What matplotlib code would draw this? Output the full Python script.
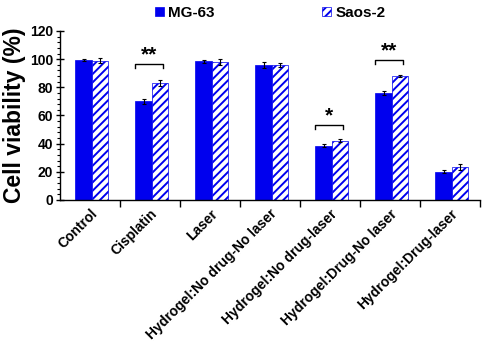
import numpy as np
import matplotlib
matplotlib.use("Agg")
import matplotlib.pyplot as plt
from matplotlib.ticker import MultipleLocator, FixedLocator

plt.rcParams['font.family'] = ['Liberation Sans', 'DejaVu Sans']
plt.rcParams['font.weight'] = 'bold'
plt.rcParams['hatch.linewidth'] = 1.4

# data
groups = ['Control', 'Cisplatin', 'Laser', 'Hydrogel:No drug-No laser',
          'Hydrogel:No drug-laser', 'Hydrogel:Drug-No laser', 'Hydrogel:Drug-laser']
mg63 = [99.5, 70.0, 98.5, 96.0, 38.5, 76.0, 20.0]
mg63_err = [0.5, 2.0, 1.2, 2.0, 1.0, 1.5, 1.2]
saos2 = [99.0, 83.0, 98.0, 96.0, 42.0, 88.0, 23.5]
saos2_err = [1.5, 2.0, 2.2, 1.5, 1.0, 1.0, 2.0]

# significance marks: (group index, bracket height, label)
sig_marks = [(1, 96.5, '**'), (4, 53.5, '*'), (5, 99.5, '**')]

blue = '#0000ee'

fig = plt.figure(figsize=(4.84, 3.52), dpi=100)
ax = fig.add_axes([0.124, 0.432, 0.868, 0.48])

x = np.arange(len(groups))
w = 0.275
off = 0.03
ax.bar(x + off - w / 2, mg63, w, color=blue, edgecolor=blue, linewidth=0.5,
       yerr=mg63_err, capsize=1.5, error_kw=dict(elinewidth=0.8, capthick=0.8),
       label='MG-63')
ax.bar(x + off + w / 2, saos2, w, color='white', edgecolor=blue, hatch='////',
       linewidth=0.5, yerr=saos2_err, capsize=1.5,
       error_kw=dict(elinewidth=0.8, capthick=0.8), label='Saos-2')

for i, h, lab in sig_marks:
    x0, x1 = i - 0.25, i + 0.22
    ax.plot([x0, x0, x1, x1], [h - 3, h, h, h - 3], color='black', lw=1.0,
            clip_on=False)
    ax.text((x0 + x1) / 2, h - 0.5, lab, ha='center', va='bottom',
            fontsize=15, fontweight='bold')

ax.set_xlim(-0.5, len(groups) - 0.5)
ax.set_ylim(0, 120)
ax.yaxis.set_major_locator(MultipleLocator(20))
ax.yaxis.set_minor_locator(MultipleLocator(4))
ax.set_xticks(x)
ax.set_xticklabels(groups, rotation=45, ha='right', rotation_mode='anchor',
                   fontsize=10, fontweight='bold')
ax.xaxis.set_minor_locator(FixedLocator(np.arange(0.5, len(groups), 1.0)))
ax.tick_params(axis='x', which='major', length=0, pad=5)
ax.tick_params(axis='x', which='minor', direction='out', length=5, width=1)
ax.tick_params(axis='y', which='major', direction='inout', length=6, width=1,
               labelsize=10, pad=2)
ax.tick_params(axis='y', which='minor', direction='out', length=2.5, width=0.8)
for lab in ax.get_yticklabels():
    lab.set_fontweight('bold')

ax.spines['top'].set_visible(False)
ax.spines['right'].set_visible(False)
ax.spines['left'].set_linewidth(1.0)
ax.spines['bottom'].set_linewidth(1.0)

ax.set_ylabel('Cell viability (%)', fontsize=16.5, fontweight='bold', labelpad=3)

fig.legend(loc='center', bbox_to_anchor=(0.558, 0.963), ncol=2, frameon=False,
           handlelength=0.6, handleheight=0.6, handletextpad=0.3,
           columnspacing=7.0, prop=dict(weight='bold', size=11))

fig.savefig('out.png', dpi=100)
